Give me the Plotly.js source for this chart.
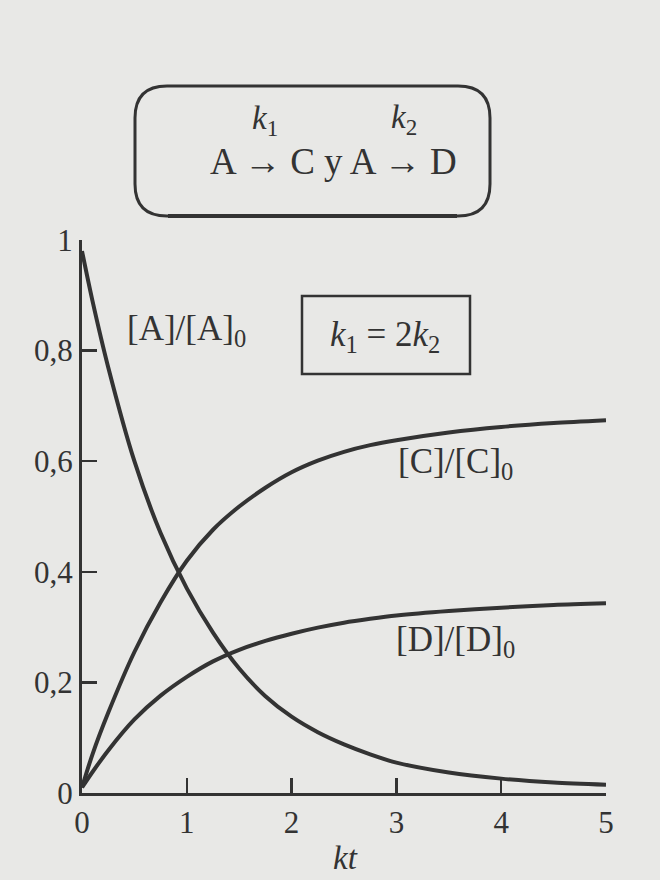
<!DOCTYPE html>
<html>
<head>
<meta charset="utf-8">
<script src="https://cdn.plot.ly/plotly-3.0.1.min.js"></script>
<style>
  html, body { margin: 0; padding: 0; background: #e8e8e6; }
  #chart { width: 660px; height: 880px; }
</style>
</head>
<body>
<div id="chart"></div>
<script>
// Reduced time kt and relative concentrations for parallel reactions A -> C (k1), A -> D (k2)
const kt     = [0, 0.1, 0.25, 0.5, 0.75, 1, 1.25, 1.5, 1.75, 2, 2.25, 2.5, 2.75, 3, 3.5, 4, 4.5, 5];
const ratioA = [0.98, 0.89, 0.77, 0.60, 0.47, 0.37, 0.29, 0.225, 0.175, 0.138, 0.11, 0.088, 0.07, 0.055, 0.037, 0.026, 0.019, 0.015];
const ratioC = [0.01, 0.07, 0.145, 0.255, 0.345, 0.42, 0.476, 0.518, 0.552, 0.58, 0.601, 0.617, 0.629, 0.638, 0.652, 0.662, 0.669, 0.674];
const ratioD = [0.01, 0.038, 0.077, 0.133, 0.176, 0.21, 0.238, 0.259, 0.275, 0.288, 0.299, 0.308, 0.315, 0.321, 0.329, 0.335, 0.34, 0.343];

const xTickVals = [0, 1, 2, 3, 4, 5];
const xTickText = ['0', '1', '2', '3', '4', '5'];
const yTickVals = [0, 0.2, 0.4, 0.6, 0.8, 1];
const yTickText = ['0', '0,2', '0,4', '0,6', '0,8', '1'];

const W = 660, H = 880;
const M = { l: 82, r: 54, t: 240, b: 87 };
const plotW = W - M.l - M.r, plotH = H - M.t - M.b;
// page pixel -> paper fraction
const px = x => (x - M.l) / plotW;
const py = y => (H - M.b - y) / plotH;

const ink = '#333333';
const serif = 'Liberation Serif, Times New Roman, serif';

const curve = (y) => ({
  x: kt, y: y, type: 'scatter', mode: 'lines',
  line: { color: ink, width: 4, shape: 'spline', smoothing: 0.8 },
  hoverinfo: 'skip', showlegend: false
});

const data = [curve(ratioA), curve(ratioC), curve(ratioD)];

// rounded frame around the reaction scheme
function roundRect(x0, y0, x1, y1, r) {
  const X0 = px(x0), X1 = px(x1), Y0 = py(y0), Y1 = py(y1);
  const rx = r / plotW, ry = r / plotH;
  return `M ${X0 + rx} ${Y0} L ${X1 - rx} ${Y0} Q ${X1} ${Y0} ${X1} ${Y0 - ry} ` +
         `L ${X1} ${Y1 + ry} Q ${X1} ${Y1} ${X1 - rx} ${Y1} ` +
         `L ${X0 + rx} ${Y1} Q ${X0} ${Y1} ${X0} ${Y1 + ry} ` +
         `L ${X0} ${Y0 - ry} Q ${X0} ${Y0} ${X0 + rx} ${Y0} Z`;
}

const shapes = [
  { type: 'path', xref: 'paper', yref: 'paper', path: roundRect(135, 86, 490, 216, 32),
    line: { color: ink, width: 3 } },
  // heavier lower edge of the scheme frame
  { type: 'line', xref: 'paper', yref: 'paper',
    x0: px(168), x1: px(457), y0: py(216), y1: py(216),
    line: { color: ink, width: 4 } },
  { type: 'rect', xref: 'paper', yref: 'paper',
    x0: px(302), x1: px(470), y0: py(374), y1: py(296),
    line: { color: ink, width: 2.5 } }
];

const ann = (x, y, text, size, extra) => Object.assign({
  xref: 'paper', yref: 'paper', x: px(x), y: py(y), text: text, showarrow: false,
  xanchor: 'center', yanchor: 'middle',
  font: { family: serif, size: size, color: ink }
}, extra || {});

const annotations = [
  ann(333, 161, 'A \u2192 C y A \u2192 D', 37),
  ann(265, 121, '<i>k</i><sub>1</sub>', 33),
  ann(404, 119, '<i>k</i><sub>2</sub>', 33),
  ann(385, 336, '<i>k</i><sub>1</sub> = 2<i>k</i><sub>2</sub>', 35),
  ann(186, 330, '[A]/[A]<sub>0</sub>', 35),
  ann(455, 463, '[C]/[C]<sub>0</sub>', 35),
  ann(455, 641, '[D]/[D]<sub>0</sub>', 35),
  ann(345, 858, '<i>kt</i>', 33)
];

const axisCommon = {
  showgrid: false, zeroline: false, showline: true,
  linecolor: ink, linewidth: 3,
  ticks: 'inside', ticklen: 15, tickwidth: 2.5, tickcolor: ink,
  tickfont: { family: serif, size: 31, color: ink },
  fixedrange: true
};

const layout = {
  width: W, height: H,
  margin: M,
  paper_bgcolor: '#e8e8e6',
  plot_bgcolor: 'rgba(0,0,0,0)',
  showlegend: false,
  xaxis: Object.assign({}, axisCommon, {
    range: [0, 5], tickmode: 'array', tickvals: xTickVals, ticktext: xTickText
  }),
  yaxis: Object.assign({}, axisCommon, {
    range: [0, 1], tickmode: 'array', tickvals: yTickVals, ticktext: yTickText
  }),
  shapes: shapes,
  annotations: annotations
};

Plotly.newPlot('chart', data, layout, { staticPlot: true, displayModeBar: false });
</script>
</body>
</html>
